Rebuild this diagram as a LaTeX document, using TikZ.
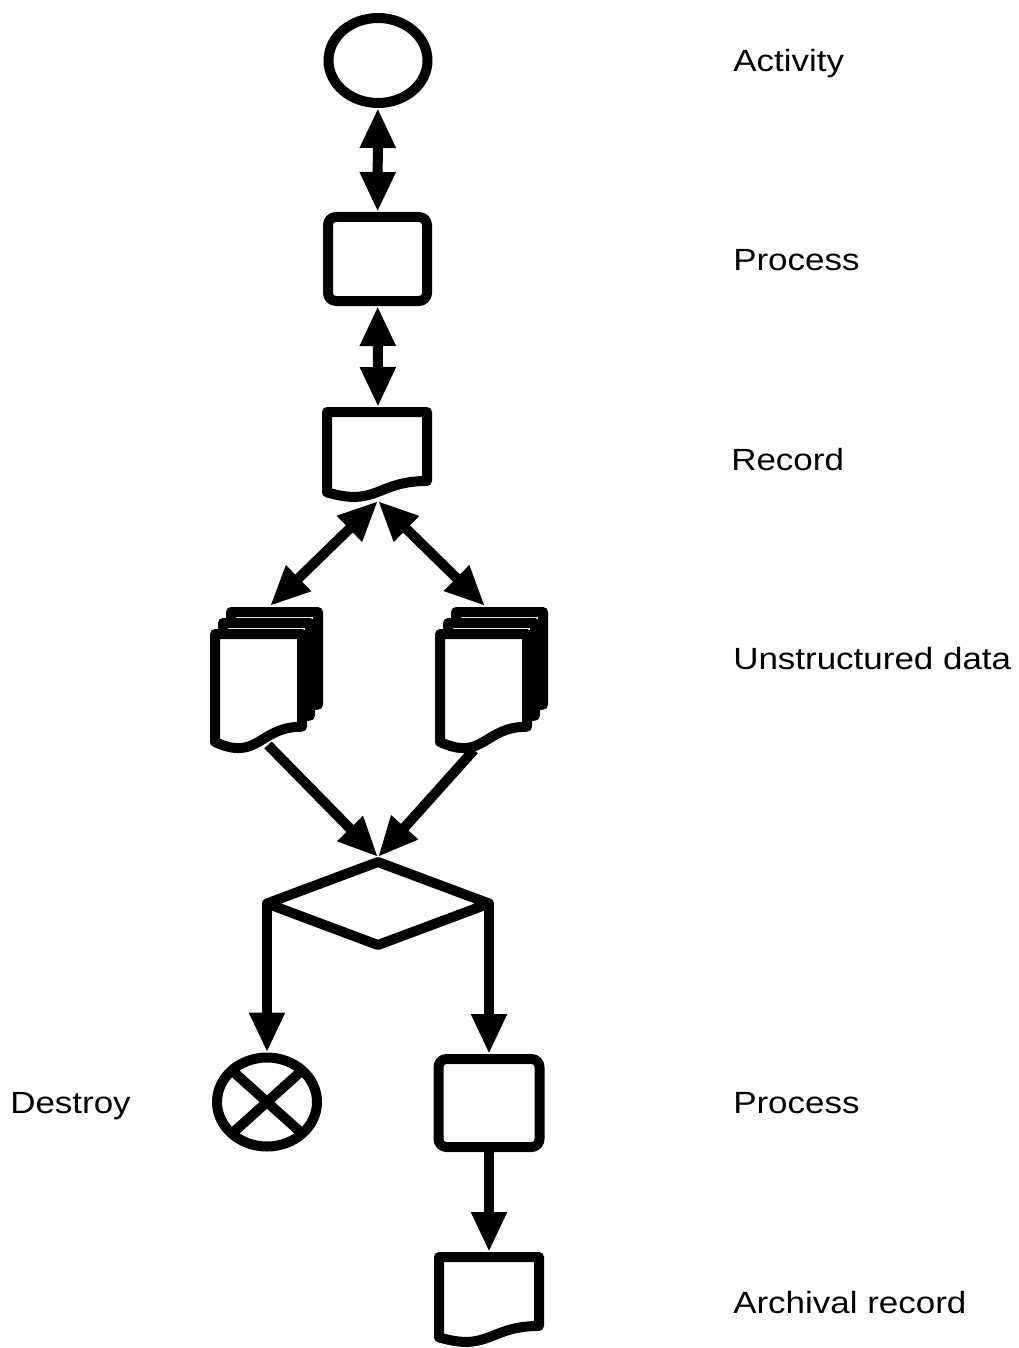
\documentclass[tikz,border=0pt]{standalone}
\usepackage{fontspec}
\setmainfont{Liberation Sans}
\usetikzlibrary{arrows.meta,shapes.geometric}

\tikzset{
  shapeline/.style={draw=black, line width=7.5pt, line join=round, fill=white},
  flow/.style={draw=black, line width=7.5pt, -{Triangle[length=30pt,width=25pt]}},
  flowboth/.style={draw=black, line width=7.5pt,
    {Triangle[length=30pt,width=25pt]}-{Triangle[length=30pt,width=25pt]}},
  caption/.style={anchor=base west, inner sep=0pt, font=\fontsize{23}{27}\selectfont},
  oval/.style={shapeline, ellipse, inner sep=0pt},
  procbox/.style={shapeline, rectangle, rounded corners=6pt, inner sep=0pt},
}

% document outline: left x, top y, width, height (wavy bottom edge)
\newcommand\recdoc[4]{%
  \path[shapeline] (#1,#2) -- ({#1+#3},#2) -- ({#1+#3},{#2+0.802*#4})
    .. controls ({#1+0.5*#3},{#2+0.802*#4}) and ({#1+0.5*#3},{#2+1.107*#4})
    .. (#1,{#2+0.934*#4}) -- cycle;}
% stack of three documents, front one at the given left/top
\newcommand\recstack[2]{%
  \recdoc{#1+16}{#2-22}{87}{115.6}%
  \recdoc{#1+8}{#2-11}{87}{115.6}%
  \recdoc{#1}{#2}{87}{115.6}}
\newcommand\widetext[1]{\scalebox{1.14}[1]{#1}}

\begin{document}
\begin{tikzpicture}[x=0.75pt,y=-0.75pt]
\useasboundingbox (0,0) rectangle (1019,1348);
\fill[white] (0,0) rectangle (1019,1348);

% shapes
\node[oval, minimum width=74.25pt, minimum height=63.75pt] (act) at (378,60.5) {};
\node[procbox, minimum width=74.25pt, minimum height=63pt] (proc1) at (377.5,259) {};
\recdoc{327}{412}{100}{86}
\coordinate (rec-top) at (378,407);
\coordinate (rec-bot) at (378,501);

\recstack{215}{634}
\recstack{440}{634}
\coordinate (ml-top) at (270,606);
\coordinate (mr-top) at (485,606);
\coordinate (ml-bot) at (268,745);
\coordinate (mr-bot) at (474,750);

\path[shapeline] (378,862) -- (489,903.5) -- (378,945) -- (267,903.5) -- cycle;
\coordinate (dia-top) at (378,857);
\coordinate (dia-l) at (267,903.5);
\coordinate (dia-r) at (489,903.5);

\node[oval, minimum width=75pt, minimum height=66.75pt] (des) at (267,1102) {};
\draw[line width=7.5pt] (des.center) ++(-35,-31.5) -- ++(70,63);
\draw[line width=7.5pt] (des.center) ++(35,-31.5) -- ++(-70,63);

\node[procbox, minimum width=75.75pt, minimum height=66pt] (proc2) at (489,1103) {};
\recdoc{439}{1257}{100}{86}
\coordinate (arc-top) at (489,1252);

% connectors
\draw[flowboth] (act) -- (proc1);
\draw[flowboth] (proc1) -- (rec-top);
\draw[flowboth] (rec-bot) -- (ml-top);
\draw[flowboth] (rec-bot) -- (mr-top);
\draw[flow] (ml-bot) -- (dia-top);
\draw[flow] (mr-bot) -- (dia-top);
\draw[flow] (dia-l) -- (des.north);
\draw[flow] (dia-r) -- (proc2.north);
\draw[flow] (proc2.south) -- (arc-top);

% labels
\node[caption] (l-act) at (733,72) {\widetext{Activity}};
\node[caption] (l-proc1) at (733,270) {\widetext{Process}};
\node[caption] (l-rec) at (731,470) {\widetext{Record}};
\node[caption] (l-uns) at (733,669) {\widetext{Unstructured data}};
\node[caption] (l-des) at (10,1113) {\widetext{Destroy}};
\node[caption] (l-proc2) at (733,1113) {\widetext{Process}};
\node[caption] (l-arc) at (733,1313) {\widetext{Archival record}};
\end{tikzpicture}
\end{document}
